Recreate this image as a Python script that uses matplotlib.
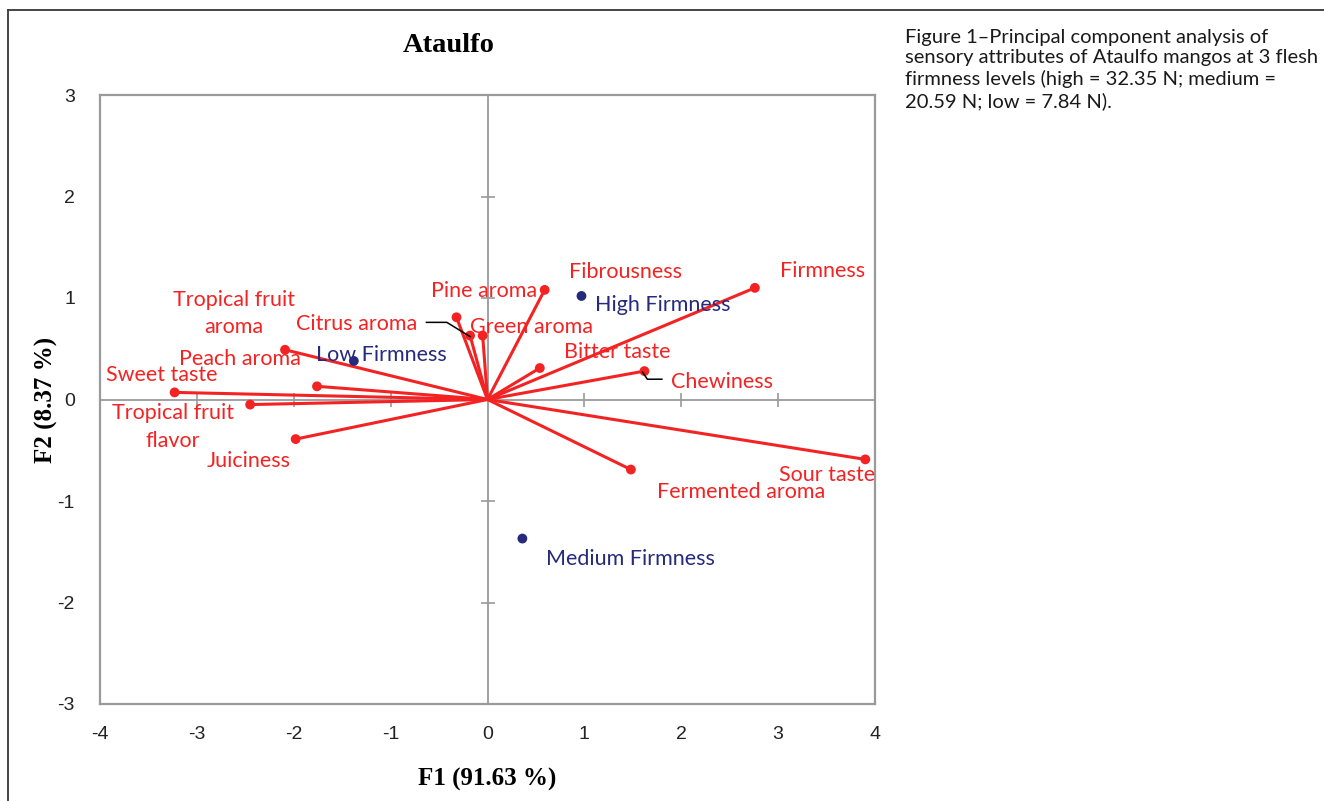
import numpy as np
import matplotlib
matplotlib.use('Agg')
import matplotlib.pyplot as plt
from matplotlib.lines import Line2D

plt.rcParams['axes.unicode_minus'] = False

# loadings of the sensory attributes on F1 / F2
attributes = ['Firmness', 'Fibrousness', 'Pine aroma', 'Citrus aroma', 'Green aroma',
              'Bitter taste', 'Chewiness', 'Sour taste', 'Fermented aroma',
              'Tropical fruit\naroma', 'Peach aroma', 'Sweet taste',
              'Tropical fruit\nflavor', 'Juiciness']
f1_attr = [2.76, 0.59, -0.32, -0.18, -0.05, 0.54, 1.62, 3.90, 1.48,
           -2.09, -1.76, -3.23, -2.45, -1.98]
f2_attr = [1.10, 1.08, 0.81, 0.63, 0.63, 0.31, 0.28, -0.59, -0.69,
           0.49, 0.13, 0.07, -0.05, -0.39]

# observations (firmness levels)
levels = ['High Firmness', 'Low Firmness', 'Medium Firmness']
f1_obs = [0.97, -1.38, 0.36]
f2_obs = [1.02, 0.38, -1.37]

xticks = [-4, -3, -2, -1, 0, 1, 2, 3, 4]
yticks = [-3, -2, -1, 0, 1, 2, 3]

# label anchors (layout only)
attr_lab = [(3.46, 1.27), (1.42, 1.26), (-0.04, 1.07), (-1.35, 0.74), (0.45, 0.71),
            (1.34, 0.47), (2.42, 0.17), (3.51, -0.74), (2.62, -0.91),
            (-2.62, 0.85), (-2.56, 0.40), (-3.36, 0.24), (-3.25, -0.27), (-2.47, -0.61)]
obs_lab = [(1.81, 0.93), (-1.10, 0.44), (1.48, -1.57)]

RED = '#f42323'
NAVY = '#262a7d'
GRAY = '#9a9a9a'
LAB_FONT = ['Lato', 'DejaVu Sans']
TICK_FONT = ['Liberation Sans Narrow', 'Liberation Sans', 'DejaVu Sans']
SERIF = ['Liberation Serif', 'DejaVu Serif']

fig = plt.figure(figsize=(13.24, 8.01), dpi=100)
W, H = 1324, 801
ax = fig.add_axes([100 / W, (H - 704) / H, 775 / W, (704 - 95) / H])

ax.set_xlim(-4, 4)
ax.set_ylim(-3, 3)
for sp in ax.spines.values():
    sp.set_color(GRAY)
    sp.set_linewidth(1.6)
ax.set_xticks(xticks)
ax.set_yticks(yticks)
ax.tick_params(length=0, labelsize=14, colors='#222222')
ax.tick_params(axis='x', pad=16)
ax.tick_params(axis='y', pad=18)
for lab in ax.get_xticklabels() + ax.get_yticklabels():
    lab.set_family(TICK_FONT)

# central cross with small ticks
ax.axhline(0, color=GRAY, lw=1.3, zorder=1)
ax.axvline(0, color=GRAY, lw=1.3, zorder=1)
xt = [t for t in xticks if t not in (0, -4, 4)]
yt = [t for t in yticks if t not in (0, -3, 3)]
ax.plot(xt, np.zeros(len(xt)), ls='none', marker='|', ms=10, mew=1.2, color=GRAY, zorder=1)
ax.plot(np.zeros(len(yt)), yt, ls='none', marker='_', ms=10, mew=1.2, color=GRAY, zorder=1)

# attribute vectors
for x, y in zip(f1_attr, f2_attr):
    ax.plot([0, x], [0, y], color=RED, lw=2.2, zorder=3, solid_capstyle='round')
ax.scatter(f1_attr, f2_attr, s=50, color=RED, zorder=4, edgecolors='none')
for name, (lx, ly) in zip(attributes, attr_lab):
    ax.text(lx, ly, name, color=RED, fontsize=15.5, family=LAB_FONT,
            ha='center', va='center', linespacing=1.45, zorder=5)

# observations
ax.scatter(f1_obs, f2_obs, s=50, color=NAVY, zorder=4, edgecolors='none')
for name, (lx, ly) in zip(levels, obs_lab):
    ax.text(lx, ly, name, color=NAVY, fontsize=15.5, family=LAB_FONT,
            ha='center', va='center', zorder=5)

# leader lines
ax.plot([-0.63, -0.42, -0.18], [0.76, 0.76, 0.62], color='black', lw=1.1, zorder=5)
ax.plot([1.60, 1.65, 1.80], [0.27, 0.20, 0.20], color='black', lw=1.1, zorder=5)

ax.set_title('Ataulfo', family=SERIF, fontweight='bold', fontsize=20.5, pad=31, x=0.45)
ax.set_xlabel('F1 (91.63 %)', family=SERIF, fontweight='bold', fontsize=18, labelpad=18)
ax.set_ylabel('F2 (8.37 %)', family=SERIF, fontweight='bold', fontsize=18, labelpad=0)

# frame lines of the figure panel
fig.add_artist(Line2D([8 / W, 8 / W], [0, 1 - 10 / H], transform=fig.transFigure,
                      color='#444444', lw=1.4))
fig.add_artist(Line2D([8 / W, 1], [1 - 10 / H, 1 - 10 / H], transform=fig.transFigure,
                      color='#444444', lw=1.4))

caption = ('Figure 1\u2013Principal component analysis of\n'
           'sensory attributes of Ataulfo mangos at 3 flesh\n'
           'firmness levels (high = 32.35 N; medium =\n'
           '20.59 N; low = 7.84 N).')
fig.text(905 / W, 1 - 29 / H, caption, ha='left', va='top', fontsize=14.5,
         family=['Lato', 'DejaVu Sans'], color='#1a1a1a', linespacing=1.25)

fig.savefig('out.png', dpi=100)
